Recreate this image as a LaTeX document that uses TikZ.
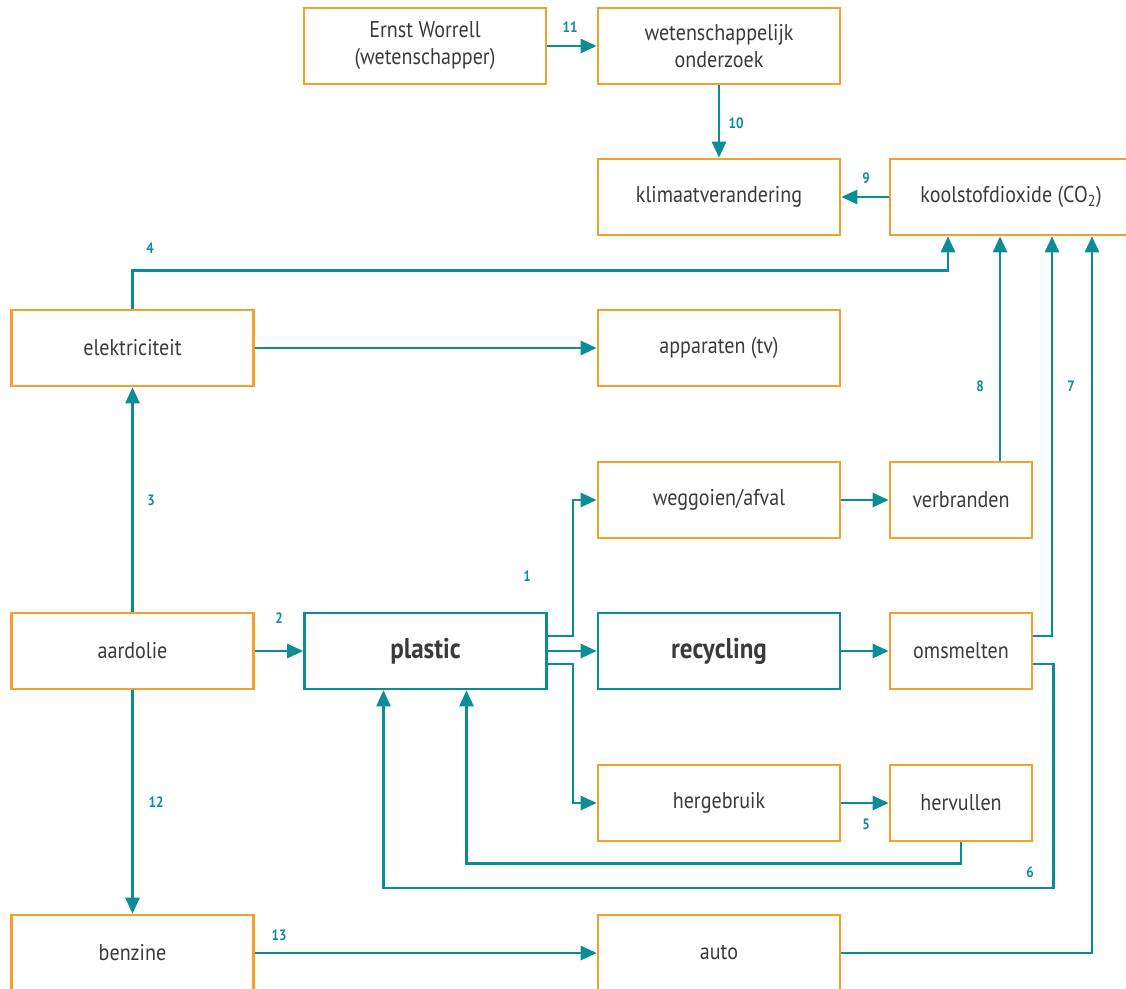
\documentclass[tikz,border=0pt]{standalone}
\usepackage{fontspec}
\setmainfont{PT Sans}[FakeStretch=0.88]
\usetikzlibrary{arrows.meta,calc}
\definecolor{orng}{HTML}{F5A02A}
\definecolor{teal2}{HTML}{0B8D95}
\definecolor{txt}{HTML}{3A3A3A}
\tikzset{
  box/.style={draw=orng, line width=2.6pt, minimum width=242pt, minimum height=76pt, inner sep=0pt, align=center, text=txt, font=\fontsize{22.8}{27}\selectfont},
  sbox/.style={box, minimum width=142pt},
  tbox/.style={box, draw=teal2, font=\fontsize{28.5}{32}\selectfont\bfseries},
  arr/.style={draw=teal2, line width=2.6pt, -{Triangle[length=16pt,width=14pt]}},
  num/.style={text=teal2, font=\fontsize{15}{17}\selectfont\bfseries, inner sep=0pt}
}
\begin{document}
\begin{tikzpicture}[x=1pt,y=-1pt]
\useasboundingbox (0,0) rectangle (1126,988);
% nodes
\node[box] (ernst) at (425,46) {Ernst Worrell\\(wetenschapper)};
\node[box] (wet) at (719,46) {wetenschappelijk\\onderzoek};
\node[box] (klim) at (719,197) {klimaatverandering};
\node[box] (co2) at (1011,197) {koolstofdioxide (CO\textsubscript{2})};
\node[box] (elek) at (132.5,348) {elektriciteit};
\node[box] (app) at (719,348) {apparaten (tv)};
\node[box] (weg) at (719,500) {weggoien/afval};
\node[sbox] (verb) at (961,500) {verbranden};
\node[box] (aard) at (132.5,651) {aardolie};
\node[tbox] (plastic) at (425.5,651) {plastic};
\node[tbox] (recyc) at (719,651) {recycling};
\node[sbox] (oms) at (961,651) {omsmelten};
\node[box] (herg) at (719,803) {hergebruik};
\node[sbox] (herv) at (961,803) {hervullen};
\node[box] (benz) at (132.5,953) {benzine};
\node[box] (auto) at (719,953) {auto};
% connectors
\draw[arr] (ernst) -- (wet);
\draw[arr] (wet) -- (klim);
\draw[arr] (co2) -- (klim);
\draw[arr] (elek.north) -- ++(0,-38) -| ([xshift=-63]co2.south);
\draw[arr] ([xshift=39]verb.north) -- ([xshift=-11]co2.south);
\draw[arr] ([yshift=15]oms.east) -| ([xshift=41]co2.south);
\draw[arr] (auto.east) -| ([xshift=81]co2.south);
\draw[arr] (elek) -- (app);
\draw[arr] (aard) -- (elek);
\draw[arr] (aard) -- (plastic);
\draw[arr] (aard) -- (benz);
\draw[arr] (benz) -- (auto);
\draw[arr] ([yshift=15]plastic.east) -- ++(25,0) |- (weg.west);
\draw[arr] (plastic) -- (recyc);
\draw[arr] ([yshift=-13]plastic.east) -- ++(25,0) |- (herg.west);
\draw[arr] (recyc) -- (oms);
\draw[arr] (weg) -- (verb);
\draw[arr] (herg) -- (herv);
\draw[arr] (herv.south) -- ++(0,21) -| ([xshift=41]plastic.south);
\draw[arr] ([yshift=-13]oms.east) -| ++(20,224) -| ([xshift=-42]plastic.south);
% labels
\node[num] (n11) at (570,27) {11};
\node[num] (n10) at (736,123) {10};
\node[num] (n9) at (866,178) {9};
\node[num] (n4) at (150,248) {4};
\node[num] (n8) at (980,386) {8};
\node[num] (n7) at (1071,386) {7};
\node[num] (n3) at (151,500) {3};
\node[num] (n2) at (279,618) {2};
\node[num] (n12) at (156,802) {12};
\node[num] (n13) at (279,935) {13};
\node[num] (n1) at (527,576) {1};
\node[num] (n5) at (866,824) {5};
\node[num] (n6) at (1030,872) {6};
\end{tikzpicture}
\end{document}
